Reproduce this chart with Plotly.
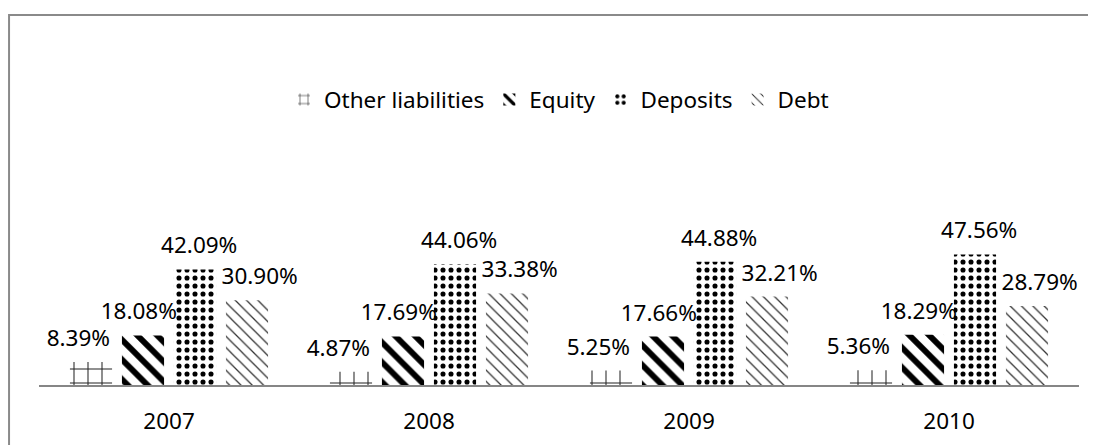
import plotly.graph_objects as go

years = ["2007", "2008", "2009", "2010"]
series = ["Other liabilities", "Equity", "Deposits", "Debt"]
other = [8.39, 4.87, 5.25, 5.36]
equity = [18.08, 17.69, 17.66, 18.29]
deposits = [42.09, 44.06, 44.88, 47.56]
debt = [30.90, 33.38, 32.21, 28.79]
values = [other, equity, deposits, debt]

# pattern fills standing in for the Excel hatch styles
patterns = [
    dict(shape="+", size=14, solidity=0.14, fgcolor="#222222", bgcolor="white", fgopacity=1),
    dict(shape="\\", size=14, solidity=0.42, fgcolor="black", bgcolor="white", fgopacity=1),
    dict(shape=".", size=8, solidity=0.32, fgcolor="black", bgcolor="white", fgopacity=1),
    dict(shape="\\", size=8, solidity=0.16, fgcolor="#333333", bgcolor="white", fgopacity=1),
]

FONT = "Noto Sans"
FS = 22.5

fig = go.Figure()

for name, vals, pat in zip(series, values, patterns):
    fig.add_trace(go.Bar(
        x=years, y=vals, name=name, offsetgroup=name,
        marker=dict(color="white", pattern=pat, line=dict(width=0)),
        hoverinfo="skip",
    ))

# value labels, lifted off the bar tops and spread a little wider, like the original
for name, vals in zip(series, values):
    fig.add_trace(go.Scatter(
        x=years, y=vals, mode="markers+text", offsetgroup=name,
        text=["%.2f%%" % v for v in vals], textposition="top center",
        textfont=dict(family=FONT, size=FS, color="black"),
        marker=dict(size=15, opacity=0), showlegend=False,
        hoverinfo="skip", cliponaxis=False,
    ))

fig.update_xaxes(showline=True, linecolor="#868686", linewidth=2, ticks="",
                 showgrid=False, zeroline=False, ticklabelstandoff=15,
                 tickfont=dict(family=FONT, size=FS, color="black"))
fig.update_yaxes(range=[0, 90], visible=False, showgrid=False, zeroline=False)

# chart frame (right and bottom edges run off the picture)
fig.add_shape(type="rect", xref="paper", yref="paper",
              x0=-0.0288, x1=1.06, y0=-0.35, y1=1.498,
              line=dict(color="#8a8a8a", width=2), fillcolor="rgba(0,0,0,0)")

# page body adds 8px, so margins are offset to land the plot where it belongs
fig.update_layout(
    width=1096, height=445,
    margin=dict(l=31, r=25, t=130, b=68),
    barmode="group", bargap=0.2, bargroupgap=0.19,
    scattermode="group", scattergap=0.07,
    plot_bgcolor="white", paper_bgcolor="white",
    font=dict(family=FONT, size=FS, color="black"),
    legend=dict(orientation="h", x=0.5, xanchor="center", y=1.154, yanchor="middle",
                font=dict(family=FONT, size=FS), itemwidth=30, bgcolor="rgba(0,0,0,0)"),
    showlegend=True,
)

fig.write_html("out.html")
